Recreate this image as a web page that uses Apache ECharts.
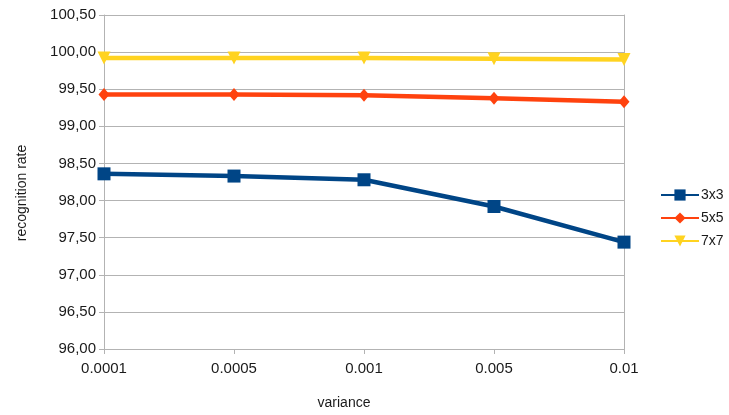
<!DOCTYPE html>
<html><head><meta charset="utf-8">
<script src="https://cdn.jsdelivr.net/npm/echarts@6/dist/echarts.min.js"></script>
<style>html,body{margin:0;padding:0;background:#fff}#c{width:729px;height:415px}</style>
</head><body><div id="c"></div>
<script>
const categories = ['0.0001','0.0005','0.001','0.005','0.01'];
const s3x3 = [98.36, 98.33, 98.28, 97.92, 97.44];
const s5x5 = [99.43, 99.43, 99.42, 99.38, 99.33];
const s7x7 = [99.92, 99.92, 99.92, 99.91, 99.90];
const seriesNames = ['3x3','5x5','7x7'];

const chart = echarts.init(document.getElementById('c'));
const font = '"Liberation Sans", sans-serif';
const txt = '#1a1a1a';
const fmt = v => v.toFixed(2).replace('.', ',');
chart.setOption({
  animation: false,
  textStyle: {fontFamily: font},
  grid: {left: 104, right: 105, top: 15, bottom: 63, containLabel: false},
  legend: {
    orient: 'vertical', left: 655, top: 183, itemGap: 9,
    itemWidth: 38, itemHeight: 14,
    textStyle: {fontFamily: font, fontSize: 14, color: txt, padding: [0,0,0,-3]},
    data: seriesNames
  },
  xAxis: {
    type: 'category', data: categories, boundaryGap: false,
    name: 'variance', nameLocation: 'middle', nameGap: 47,
    nameTextStyle: {fontFamily: font, fontSize: 14, color: txt, padding: [0, 40, 0, 0]},
    axisLine: {lineStyle: {color: '#b3b3b3', width: 1}},
    axisTick: {show: true, inside: false, length: 5, lineStyle: {color: '#b3b3b3'}},
    axisLabel: {fontFamily: font, fontSize: 15, color: txt, margin: 12},
    splitLine: {show: false}
  },
  yAxis: [{
    type: 'value', min: 96, max: 100.5, interval: 0.5,
    name: 'recognition rate', nameLocation: 'middle', nameGap: 75,
    nameTextStyle: {fontFamily: font, fontSize: 14, color: txt, padding: [0, 22, 0, 0]},
    axisLine: {show: true, lineStyle: {color: '#b3b3b3'}},
    axisTick: {show: true, length: 5, lineStyle: {color: '#b3b3b3'}},
    axisLabel: {fontFamily: font, fontSize: 15, color: txt, margin: 8, formatter: fmt},
    splitLine: {show: true, lineStyle: {color: '#b3b3b3', width: 1}}
  }, {
    type: 'value', min: 96, max: 100.5, interval: 0.5, position: 'right',
    axisLine: {show: true, lineStyle: {color: '#b3b3b3'}},
    axisTick: {show: false}, axisLabel: {show: false}, splitLine: {show: false}
  }],
  series: [
    {name: '3x3', type: 'line', data: s3x3, symbol: 'rect', symbolSize: 13,
     itemStyle: {color: '#004586'}, lineStyle: {width: 4.5, color: '#004586'}},
    {name: '5x5', type: 'line', data: s5x5, symbol: 'diamond', symbolSize: [11, 13],
     itemStyle: {color: '#ff420e'}, lineStyle: {width: 4.5, color: '#ff420e'}},
    {name: '7x7', type: 'line', data: s7x7, symbol: 'triangle', symbolRotate: 180, symbolSize: 13,
     itemStyle: {color: '#ffd320'}, lineStyle: {width: 4.5, color: '#ffd320'}}
  ]
});
</script></body></html>
